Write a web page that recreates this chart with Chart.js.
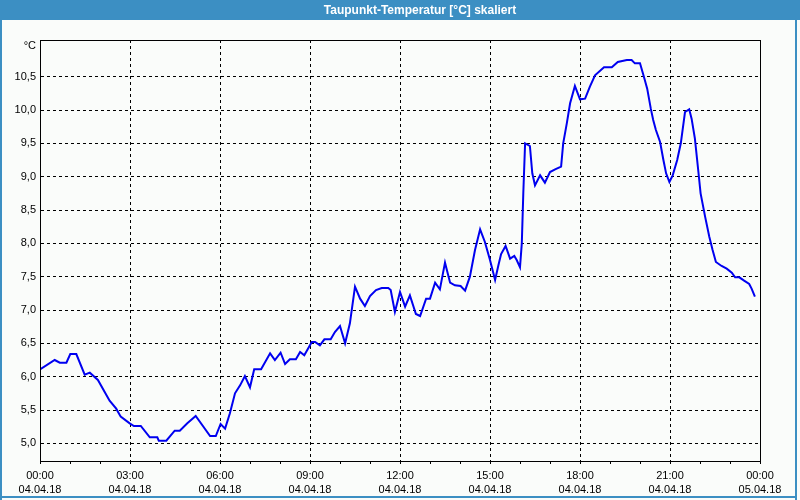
<!DOCTYPE html>
<html>
<head>
<meta charset="utf-8">
<script src="https://cdn.jsdelivr.net/npm/chart.js@4/dist/chart.umd.min.js"></script>
<style>
  html, body { margin: 0; padding: 0; background: #fafcfa; }
  canvas { display: block; }
</style>
</head>
<body>
<canvas id="c" width="800" height="500"></canvas>
<script>
// ---- data ----
const chartTitle = 'Taupunkt-Temperatur [°C] skaliert';
const unitLabel = '°C';
// time in hours since 04.04.18 00:00
const hours = [
  0.0, 0.49, 0.66, 0.88, 1.01, 1.21, 1.49, 1.66, 1.93, 2.32, 2.54, 2.69, 2.99,
  3.13, 3.36, 3.66, 3.91, 3.96, 4.21, 4.49, 4.66, 4.91, 5.19, 5.67, 5.86,
  6.02, 6.17, 6.33, 6.5, 6.67, 6.83, 7.0, 7.14, 7.37, 7.67, 7.83, 8.02, 8.17,
  8.33, 8.53, 8.67, 8.81, 9.06, 9.17, 9.33, 9.48, 9.69, 9.83, 10.0, 10.17,
  10.33, 10.5, 10.67, 10.83, 11.0, 11.2, 11.39, 11.61, 11.69, 11.83, 12.0,
  12.17, 12.33, 12.53, 12.67, 12.87, 13.0, 13.17, 13.33, 13.5, 13.67, 13.83,
  14.02, 14.17, 14.33, 14.5, 14.67, 14.83, 15.0, 15.17, 15.28, 15.37, 15.52,
  15.67, 15.81, 15.89, 16.0, 16.06, 16.11, 16.17, 16.33, 16.41, 16.5, 16.67,
  16.83, 17.0, 17.17, 17.37, 17.44, 17.56, 17.67, 17.83, 18.0, 18.17, 18.33,
  18.5, 18.8, 19.06, 19.26, 19.56, 19.72, 19.83, 20.0, 20.13, 20.24, 20.36,
  20.44, 20.53, 20.67, 20.78, 20.87, 20.98, 21.09, 21.24, 21.36, 21.5, 21.64,
  21.72, 21.83, 21.94, 22.02, 22.17, 22.31, 22.42, 22.53, 22.72, 22.89, 23.06,
  23.17, 23.31, 23.47, 23.64, 23.72, 23.83
];
const dewPoint = [
  6.11, 6.25, 6.21, 6.21, 6.34, 6.34, 6.03, 6.06, 5.95, 5.64, 5.52, 5.40, 5.30,
  5.26, 5.26, 5.09, 5.09, 5.04, 5.04, 5.19, 5.19, 5.30, 5.41, 5.11, 5.11,
  5.29, 5.22, 5.45, 5.75, 5.87, 6.01, 5.84, 6.11, 6.11, 6.35, 6.25, 6.36, 6.19,
  6.26, 6.26, 6.37, 6.32, 6.52, 6.52, 6.47, 6.56, 6.56, 6.67, 6.76, 6.50,
  6.80, 7.35, 7.17, 7.06, 7.21, 7.30, 7.33, 7.33, 7.30, 6.97, 7.27,
  7.05, 7.22, 6.94, 6.91, 7.17, 7.17, 7.41, 7.31, 7.71, 7.41, 7.37,
  7.36, 7.29, 7.50, 7.90, 8.21, 8.02, 7.75, 7.45, 7.67, 7.84, 7.96,
  7.77, 7.81, 7.75, 7.64, 8.00, 8.75, 9.50, 9.46, 9.05, 8.87, 9.02,
  8.91, 9.07, 9.11, 9.15, 9.50, 9.80, 10.10, 10.36, 10.16, 10.17, 10.35,
  10.52, 10.64, 10.64, 10.72, 10.75, 10.75, 10.70, 10.70, 10.50, 10.32, 10.02,
  9.85, 9.70, 9.52, 9.25, 9.05, 8.92, 9.02, 9.25, 9.50, 9.97, 10.01,
  9.87, 9.57, 9.10, 8.75, 8.40, 8.10, 7.90, 7.72, 7.66, 7.62, 7.56,
  7.49, 7.49, 7.44, 7.39, 7.32, 7.20
];
const yTickValues = [5.0, 5.5, 6.0, 6.5, 7.0, 7.5, 8.0, 8.5, 9.0, 9.5, 10.0, 10.5];
const xTickHours = [0, 3, 6, 9, 12, 15, 18, 21, 24];
const xTimeLabels = ['00:00', '03:00', '06:00', '09:00', '12:00', '15:00', '18:00', '21:00', '00:00'];
const xDateLabels = ['04.04.18', '04.04.18', '04.04.18', '04.04.18', '04.04.18', '04.04.18', '04.04.18', '04.04.18', '05.04.18'];
const yMin = 4.735, yMax = 11.05;

// ---- chart ----
const FONT = '"Liberation Sans", Arial, sans-serif';
const bgColor = '#fafcfa';
const frameBlue = '#3c8fc3';

const framePlugin = {
  id: 'frame',
  beforeDraw(chart) {
    const ctx = chart.ctx;
    ctx.save();
    ctx.fillStyle = bgColor;
    ctx.fillRect(0, 0, chart.width, chart.height);
    ctx.fillStyle = frameBlue;
    ctx.fillRect(0, 0, chart.width, 20);
    ctx.fillStyle = '#ffffff';
    ctx.font = 'bold 12px ' + FONT;
    ctx.textAlign = 'center';
    ctx.textBaseline = 'middle';
    ctx.fillText(chartTitle, 420, 11);
    ctx.restore();
  },
  afterDraw(chart) {
    const ctx = chart.ctx;
    const a = chart.chartArea;
    ctx.save();
    ctx.strokeStyle = '#000';
    ctx.lineWidth = 1;
    ctx.strokeRect(Math.round(a.left) + 0.5, Math.round(a.top) + 0.5,
                   Math.round(a.right - a.left), Math.round(a.bottom - a.top));
    // window border
    ctx.fillStyle = frameBlue;
    ctx.fillRect(0, 20, 2, chart.height - 20);
    ctx.fillRect(chart.width - 5, 20, 2, chart.height - 20);
    ctx.fillRect(0, chart.height - 4, chart.width - 3, 2);
    // unit label
    ctx.fillStyle = '#000';
    ctx.font = '11px ' + FONT;
    ctx.textAlign = 'right';
    ctx.textBaseline = 'middle';
    ctx.fillText(unitLabel, 36, 46);
    ctx.restore();
  }
};

new Chart(document.getElementById('c'), {
  type: 'line',
  data: {
    datasets: [{
      data: hours.map((h, i) => ({ x: h, y: dewPoint[i] })),
      borderColor: '#0000f0',
      borderWidth: 2,
      pointRadius: 0,
      tension: 0,
      fill: false
    }]
  },
  options: {
    responsive: false,
    animation: false,
    devicePixelRatio: 1,
    layout: { padding: { top: 40, right: 40, left: 0, bottom: 0 } },
    plugins: { legend: { display: false }, title: { display: false }, tooltip: { enabled: false } },
    scales: {
      x: {
        type: 'linear',
        min: 0,
        max: 24,
        afterFit(scale) { scale.height = 39; },
        afterBuildTicks(scale) {
          const t = [];
          for (let h = 0; h <= 24; h++) t.push({ value: h });
          scale.ticks = t;
        },
        grid: {
          color: (c) => (c.tick && xTickHours.includes(c.tick.value)) ? '#000' : 'rgba(0,0,0,0)',
          tickColor: '#000',
          tickLength: 3,
          lineWidth: 1
        },
        border: { display: true, color: '#000', width: 1, dash: [3, 3] },
        ticks: {
          autoSkip: false,
          maxRotation: 0,
          minRotation: 0,
          padding: 5,
          color: '#000',
          font: { family: FONT, size: 11, lineHeight: '14px' },
          callback: (v) => {
            const i = xTickHours.indexOf(v);
            return i >= 0 ? [xTimeLabels[i], xDateLabels[i]] : '';
          }
        }
      },
      y: {
        type: 'linear',
        min: yMin,
        max: yMax,
        afterFit(scale) { scale.width = 40; },
        afterBuildTicks(scale) { scale.ticks = yTickValues.map(v => ({ value: v })); },
        grid: { color: '#000', drawTicks: false, lineWidth: 1 },
        border: { display: true, color: '#000', width: 1, dash: [3, 3] },
        ticks: {
          padding: 4,
          color: '#000',
          font: { family: FONT, size: 11 },
          callback: (v) => v.toFixed(1).replace('.', ',')
        }
      }
    }
  },
  plugins: [framePlugin]
});
</script>
</body>
</html>
